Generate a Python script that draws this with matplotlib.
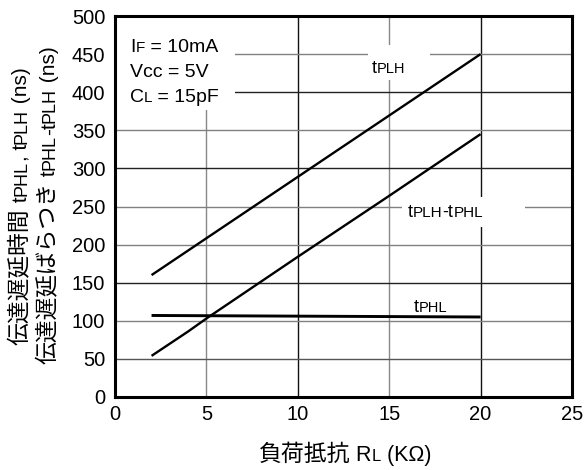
import matplotlib
matplotlib.use("Agg")
import matplotlib.pyplot as plt
from matplotlib.patches import Rectangle

plt.rcParams['font.family'] = ['Liberation Sans', 'Noto Sans CJK JP', 'DejaVu Sans']

# data
rl_plh = [2, 20]
t_plh = [160, 450]
rl_diff = [2, 4, 5, 10, 15, 20]
t_diff = [54, 86, 103, 184, 264, 345]
rl_phl = [2, 20]
t_phl = [107, 105]
x_ticks = [0, 5, 10, 15, 20, 25]
y_ticks = [0, 50, 100, 150, 200, 250, 300, 350, 400, 450, 500]

W, H = 587, 470
fig = plt.figure(figsize=(W/100, H/100), dpi=100)
ax = fig.add_axes([115/W, 1-397/H, (572-115)/W, (397-16)/H])
ax.set_xlim(0, 25)
ax.set_ylim(0, 500)
ax.set_xticks(x_ticks)
ax.set_yticks(y_ticks)
ax.tick_params(length=0, labelsize=14.5)
ax.tick_params(axis='y', pad=7)
ax.tick_params(axis='x', pad=6)
for s in ax.spines.values():
    s.set_linewidth(2.2)
    s.set_zorder(5)

vcol = {5: '#888888', 10: '#111111', 15: '#888888', 20: '#111111'}
hcol = {50: '#555555', 100: '#808080', 150: '#222222', 200: '#808080', 250: '#808080',
        300: '#222222', 350: '#808080', 400: '#222222', 450: '#808080'}
for v, c in vcol.items():
    ax.axvline(v, color=c, lw=1.0, zorder=1)
for v, c in hcol.items():
    ax.axhline(v, color=c, lw=1.0, zorder=1)

ax.plot(rl_plh, t_plh, color='black', lw=1.7, zorder=3, solid_capstyle='butt')
ax.plot(rl_diff, t_diff, color='black', lw=1.7, zorder=3, solid_capstyle='butt')
ax.plot(rl_phl, t_phl, color='black', lw=2.1, zorder=3, solid_capstyle='butt')

def px2data(px, py):
    return (px - 115) / ((572 - 115) / 25), (397 - py) / ((397 - 16) / 500)

def white_box(x0, y0, x1, y1):
    a = px2data(x0, y1)
    b = px2data(x1, y0)
    ax.add_patch(Rectangle(a, b[0]-a[0], b[1]-a[1], facecolor='white',
                           edgecolor='none', zorder=2, clip_on=True))

white_box(117, 18, 235, 110)
white_box(368, 45, 430, 80)
white_box(402, 197, 525, 227)

fig.canvas.draw()
r = fig.canvas.get_renderer()

def draw_runs(x0, y0, runs, rotation=0, align='left'):
    """x0, y0 in pixels from top-left; runs = (text, fontsize)."""
    lengths = []
    for s, fs in runs:
        t = fig.text(0, 0, s, fontsize=fs)
        bb = t.get_window_extent(renderer=r)
        lengths.append(bb.width)
        t.remove()
    total = sum(lengths)
    pos = -total/2 if align == 'center' else 0
    yb = H - y0
    for (s, fs), L in zip(runs, lengths):
        if rotation == 0:
            px, py = x0 + pos, yb
        else:
            px, py = x0, yb + pos
        fig.text(px/W, py/H, s, fontsize=fs, rotation=rotation,
                 rotation_mode='anchor', ha='left', va='baseline', zorder=6)
        pos += L

B, S = 14, 11
draw_runs(130, 52, [("I", B), ("F", S), (" = 10mA", B)])
draw_runs(130, 77, [("Vcc = 5V", B)])
draw_runs(130, 102, [("C", B), ("L", S), (" = 15pF", B)])

draw_runs(372, 73, [("t", 13), ("PLH", 10.5)])
draw_runs(408, 217, [("t", 13), ("PLH", 11), ("-t", 13), ("PHL", 11)])
draw_runs(414, 312, [("t", 13), ("PHL", 10.5)])

draw_runs(345, 461, [("負荷抵抗", 16.5), (" R", 15.5), ("L", 12), (" (KΩ)", 15.5)], align='center')
draw_runs(27, 206, [("伝達遅延時間", 16.4), (" t", 15), ("PHL", 13), (", t", 15), ("PLH", 13), (" (ns)", 15)],
          rotation=90, align='center')
draw_runs(55, 205, [("伝達遅延ばらつき", 16.4), (" t", 15), ("PHL", 13), ("-t", 15), ("PLH", 13), (" (ns)", 15)],
          rotation=90, align='center')

fig.savefig("out.png", dpi=100)
